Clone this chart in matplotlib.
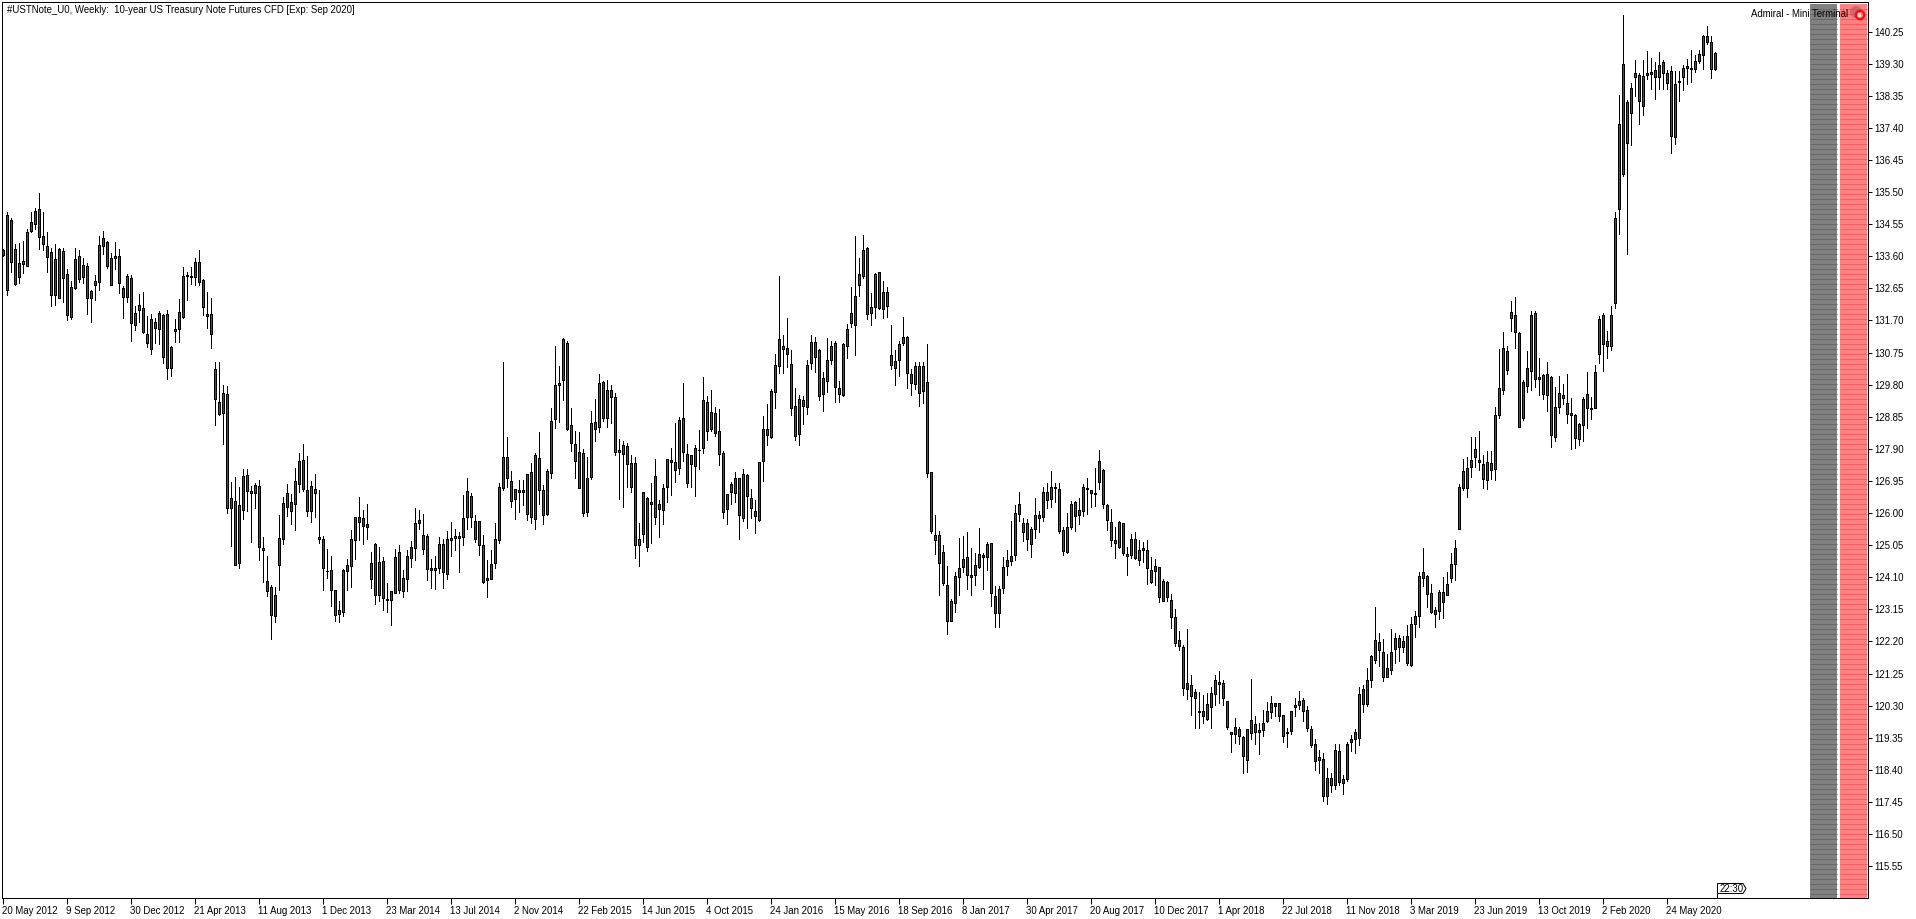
import numpy as np
import matplotlib
matplotlib.use("Agg")
import matplotlib.pyplot as plt
from matplotlib.patches import Rectangle, Polygon, Circle

title = "#USTNote_U0, Weekly:  10-year US Treasury Note Futures CFD [Exp: Sep 2020]"
date_labels = ["20 May 2012","9 Sep 2012","30 Dec 2012","21 Apr 2013","11 Aug 2013","1 Dec 2013","23 Mar 2014",
 "13 Jul 2014","2 Nov 2014","22 Feb 2015","14 Jun 2015","4 Oct 2015","24 Jan 2016","15 May 2016","18 Sep 2016",
 "8 Jan 2017","30 Apr 2017","20 Aug 2017","10 Dec 2017","1 Apr 2018","22 Jul 2018","11 Nov 2018","3 Mar 2019",
 "23 Jun 2019","13 Oct 2019","2 Feb 2020","24 May 2020"]
price_ticks = [140.25,139.30,138.35,137.40,136.45,135.50,134.55,133.60,132.65,131.70,130.75,129.80,128.85,127.90,
 126.95,126.00,125.05,124.10,123.15,122.20,121.25,120.30,119.35,118.40,117.45,116.50,115.55]

direction = ("G" "GRGRGGGGRR" "RRGGRRGGRG" "RGGGGRGGRR" "GRGGRRGRGG" "RGGGGRRGRR" "RRRRGRGRGG" "RRGRGGRGGG"
 "RRGGRRGRGR" "GRRGGGGGGR" "RGRGRGGGRG" "GGGGGRRGGR" "GGGGGGRGRR" "GGGGGRRGGG" "GRGRRGGGGG" "RRRGRGGRGR"
 "GRRGGRGRGG" "RGRRGGGRGR" "GRGGGRGRRR" "GRGRGRRRGG" "RGGGRRRRGR" "GGRRGGGRRG" "GGGGGRGGRG" "RRGGGRRGRG"
 "RRRRRRGGGG" "RGGGGGRRGG" "GGGRGRGGRG" "RGGRRGGRGG" "GRGGRRRRGR" "RGRGGRGGRG" "RRRRRGRGGR" "GGGGRRGGRR"
 "GGRGGGGRRR" "GGGGRRRRGR" "GRGRGGGGGR" "GGGRRGGGRG" "RGGGGRRGGR" "GGGGGGGGRR" "GRGGGRRRRG" "GGRGRGRGGR"
 "RGRGGRGGGR" "RGGGRRGGRG" "GGRGRGRGGG" "RGGGGRRG")

highs = [133.81,134.92,134.72,133.95,133.98,134.05,134.40,134.90,135.02,135.46,134.90,134.31,133.83,133.95,133.83,133.83,
 133.21,132.86,133.83,133.78,133.55,133.39,132.60,133.04,134.19,134.35,134.05,133.69,134.02,133.80,132.72,133.06,133.04,
 132.13,132.48,132.54,131.83,131.88,131.76,131.97,131.88,132.00,130.93,131.73,132.33,133.27,133.12,133.27,133.54,133.77,
 132.92,132.54,132.36,
 130.46,130.46,129.78,129.75,126.91,127.07,126.76,127.29,127.29,126.79,126.88,126.97,125.28,124.73,123.86,123.80,125.93,
 126.47,126.85,126.56,127.32,127.77,128.03,127.68,126.94,127.15,126.68,125.31,124.93,124.73,123.71,123.39,124.34,124.63,
 125.49,125.87,126.47,126.08,126.27,124.84,125.11,124.99,124.69,123.92,123.69,124.93,125.05,124.31,124.90,125.16,126.14,
 126.08,125.96,125.37,124.63,124.72,125.28,
 125.22,125.46,125.73,125.52,125.43,126.52,127.03,126.58,125.93,125.75,125.34,124.60,124.91,125.70,126.88,130.46,128.24,
 127.23,126.70,126.99,126.97,127.14,127.47,127.77,128.39,126.82,127.29,129.10,130.93,130.34,131.17,131.08,129.10,128.42,
 128.39,127.88,127.65,129.01,129.36,130.10,129.90,129.95,129.78,129.54,128.18,128.12,128.06,127.71,127.65,125.70,126.61,
 126.46,126.88,127.59,126.38,126.85,127.59,
 127.91,128.66,128.83,129.84,128.03,127.73,128.00,128.45,130.02,129.45,129.63,129.13,129.07,127.83,126.56,126.92,127.21,
 127.03,127.30,127.15,126.70,126.38,127.52,128.86,129.22,129.66,130.70,133.00,131.26,131.76,130.81,129.69,129.48,129.45,
 130.52,131.26,131.20,130.84,130.16,131.17,131.08,131.08,129.90,131.02,131.58,132.68,134.19,133.54,134.22,133.86,132.50,
 133.09,133.12,132.86,132.68,131.55,130.82,131.08,
 131.81,131.23,130.25,130.46,130.46,130.46,130.99,127.20,125.93,125.47,125.04,124.42,123.45,124.25,125.25,125.32,125.43,
 124.96,124.81,125.55,124.81,125.13,125.10,123.84,123.83,124.69,124.90,125.75,126.23,126.61,125.84,125.81,125.58,126.43,
 126.05,126.76,126.88,127.23,126.88,126.88,125.58,125.99,126.35,126.35,126.43,126.85,127.03,126.67,127.32,127.85,127.29,
 126.26,126.11,125.58,125.75,125.70,124.99,
 125.37,125.43,125.19,125.13,125.19,124.69,124.63,124.39,124.06,123.98,123.59,123.15,122.50,122.08,122.56,121.20,120.78,
 120.69,120.60,120.66,120.84,121.20,121.31,121.05,120.45,119.51,119.92,119.66,119.39,119.60,121.08,119.98,119.78,120.16,
 120.40,120.57,120.37,120.37,120.03,119.63,120.13,120.54,120.72,120.52,120.28,119.69,119.30,118.98,118.89,118.44,118.30,
 119.15,119.15,
 118.24,119.22,119.42,119.60,120.84,120.90,121.41,121.79,123.21,122.44,122.26,121.82,122.56,122.44,122.38,122.35,122.68,
 122.91,123.09,124.25,124.96,124.16,123.89,123.21,123.71,124.10,124.25,124.81,125.19,
 126.86,127.60,127.65,128.25,128.25,128.42,127.71,127.83,127.83,129.13,130.85,131.35,130.94,132.27,132.39,131.35,129.93,
 130.79,131.97,131.97,130.58,130.11,130.46,130.05,129.73,130.05,129.81,130.11,129.40,128.93,128.66,129.43,130.17,129.43,
 130.38,131.83,131.91,131.38,132.12,
 134.91,138.37,140.73,138.22,138.74,139.42,139.01,139.42,139.66,139.48,139.34,139.63,139.40,139.10,139.22,139.07,139.07,
 139.25,139.45,139.69,139.54,139.69,140.16,140.40,140.13,139.63]

lows = [133.61,132.45,133.14,132.75,132.82,133.11,133.32,134.33,134.41,133.82,133.77,133.13,132.14,132.16,132.35,132.23,
 131.72,131.75,132.62,132.85,132.80,131.89,131.65,132.29,132.61,133.67,133.26,132.76,133.22,132.52,131.78,132.23,131.10,
 131.43,131.66,131.34,130.90,130.72,131.02,131.01,130.45,129.98,130.04,131.07,131.07,131.76,132.30,132.78,132.75,132.75,
 131.87,131.49,130.87,
 128.59,128.91,128.05,126.01,125.01,124.47,124.36,125.81,126.07,125.15,126.16,124.62,123.97,123.53,122.26,122.76,123.71,
 125.07,125.92,125.66,125.51,126.61,126.66,125.92,125.72,125.89,125.11,123.73,124.09,123.26,122.79,122.76,122.94,123.73,
 123.82,124.65,125.20,125.07,125.24,123.79,123.32,123.41,123.14,123.08,122.70,123.63,123.62,123.51,123.68,124.41,124.62,
 125.54,124.78,124.03,123.79,123.76,124.22,
 123.79,124.06,124.74,124.92,124.24,125.06,125.54,125.60,125.15,124.77,123.94,123.50,124.04,124.38,125.10,126.69,126.78,
 126.19,125.83,126.04,126.25,125.80,125.71,125.54,126.28,125.66,125.95,127.05,128.52,128.70,129.35,128.47,127.84,127.04,
 126.73,125.92,125.92,127.02,128.14,128.41,128.73,128.55,128.67,127.73,126.40,126.19,126.76,126.63,124.68,124.44,125.15,
 124.89,125.12,125.68,125.30,125.66,126.34,
 126.52,126.93,127.14,127.55,126.78,126.78,126.49,127.31,127.79,128.17,128.44,128.29,127.43,125.84,125.66,126.28,126.32,
 125.24,125.75,125.57,125.86,125.42,125.76,126.96,128.00,128.23,129.12,130.15,130.15,130.33,128.91,128.17,128.02,128.62,
 128.94,130.27,130.18,129.33,129.03,129.59,130.42,129.30,129.30,129.45,130.60,131.51,130.69,132.43,132.95,131.75,131.57,
 131.78,132.05,131.78,131.81,130.27,129.80,130.06,
 130.98,129.71,129.50,129.68,129.18,129.26,127.08,125.42,124.80,123.56,123.86,122.43,122.79,123.08,123.56,124.25,123.76,
 123.56,123.88,124.38,123.76,124.32,123.26,122.64,122.64,123.64,124.18,124.46,124.62,125.77,125.18,124.92,124.71,125.27,
 125.44,125.75,126.14,126.19,126.34,125.42,124.77,124.83,125.54,125.48,125.66,125.90,125.98,126.19,126.20,126.70,126.16,
 125.51,125.03,124.68,124.97,124.75,124.18,
 124.68,124.63,124.47,124.55,123.91,123.94,123.88,123.37,123.41,123.40,122.60,122.07,121.95,120.62,120.50,120.03,119.65,
 119.65,119.80,119.88,119.65,120.33,120.37,120.33,119.62,118.94,119.20,119.17,118.32,118.35,119.32,119.15,118.88,119.41,
 119.82,119.94,120.00,119.85,119.23,119.08,119.45,120.00,120.21,119.85,119.56,119.08,118.40,118.32,117.49,117.40,117.75,
 117.84,117.96,
 117.67,118.08,118.97,118.91,119.12,120.12,120.30,120.86,121.55,121.48,121.04,121.14,121.25,121.55,121.63,121.89,121.51,
 121.46,122.34,122.62,123.84,123.23,123.03,122.64,122.87,122.90,123.56,123.97,124.03,
 125.52,126.67,126.46,127.08,127.35,127.26,126.73,126.70,127.02,126.99,128.80,129.51,130.10,131.39,130.87,128.54,128.74,
 129.57,129.63,129.72,129.48,129.36,129.03,127.94,128.12,128.95,129.22,128.65,127.88,127.91,128.01,128.12,128.53,128.78,
 129.10,130.43,130.20,130.60,130.82,
 132.08,134.27,135.98,133.66,136.90,138.33,137.50,137.78,138.83,138.54,138.26,138.54,138.54,138.56,136.66,136.93,138.20,
 138.51,138.71,138.75,139.04,139.31,139.13,139.87,138.88,139.10]

body_upper = [133.78,134.81,134.66,133.80,133.39,133.45,134.31,134.60,134.93,134.99,134.19,133.89,133.72,133.51,133.80,133.74,
 133.06,132.68,133.51,133.60,133.33,133.30,132.56,132.86,133.92,134.13,134.01,133.54,133.60,133.60,132.65,133.01,132.95,
 131.91,132.15,132.06,131.29,131.73,131.65,131.91,131.85,131.88,130.90,131.44,131.94,133.01,133.04,133.01,133.42,133.42,
 132.89,131.88,131.88,
 130.25,129.28,129.54,129.51,126.44,126.35,126.23,127.09,127.12,126.64,126.82,126.79,124.96,123.98,123.80,123.57,125.25,
 126.29,126.58,126.32,126.94,127.53,127.56,126.67,126.79,126.70,125.28,125.22,124.29,124.31,123.71,123.12,124.31,124.45,
 125.22,125.87,125.87,125.84,125.67,124.51,125.08,124.54,124.57,123.45,123.69,124.69,124.84,124.07,124.72,124.99,125.70,
 125.79,125.34,125.31,124.37,124.37,125.08,
 125.07,125.22,125.25,125.31,125.31,125.84,126.64,126.49,125.75,125.75,125.04,124.07,124.48,125.22,126.76,127.65,127.65,
 126.94,126.70,126.67,126.67,127.14,127.20,127.71,127.62,126.67,127.23,128.71,129.78,129.84,131.14,131.02,128.59,128.03,
 127.80,127.77,127.03,128.65,128.68,129.84,129.87,129.63,129.63,129.42,127.85,128.00,127.97,127.47,127.47,125.22,126.61,
 126.43,126.32,127.09,126.26,126.73,127.59,
 127.56,127.50,128.74,128.80,127.74,127.71,127.92,127.87,129.34,129.28,128.98,128.95,128.42,127.77,126.56,126.85,127.03,
 127.03,127.15,127.12,126.44,126.05,127.50,128.48,128.48,129.60,130.37,131.14,130.93,130.87,130.40,129.16,129.37,129.34,
 130.37,131.05,131.05,130.81,129.99,130.52,130.93,131.02,129.69,130.99,131.44,131.91,132.41,133.06,133.77,133.83,132.09,
 133.06,133.12,132.53,132.53,130.67,130.49,130.99,
 131.20,131.20,130.10,130.34,130.34,130.34,129.87,127.20,125.34,125.34,124.84,123.86,123.39,124.13,124.36,124.63,124.69,
 124.16,124.45,124.78,124.75,125.07,125.10,123.54,123.74,124.39,124.60,124.72,125.99,126.26,125.70,125.70,125.52,125.93,
 125.93,126.61,126.61,126.76,126.76,126.70,125.49,125.58,126.26,126.32,126.08,126.76,126.73,126.67,126.59,127.53,127.26,
 126.23,125.72,125.19,125.72,125.70,124.78,
 125.22,125.22,124.92,124.95,124.92,124.30,124.42,124.39,123.98,123.95,123.44,122.91,122.23,122.02,120.96,120.90,120.69,
 120.13,120.13,120.34,120.66,121.05,120.99,120.96,120.43,119.51,119.66,119.60,119.36,119.60,119.86,119.75,119.57,119.78,
 120.13,120.37,120.37,120.37,120.01,119.51,120.13,120.31,120.43,120.46,120.16,119.60,119.15,118.77,118.71,118.15,118.15,
 118.98,118.95,
 118.12,119.16,119.31,119.51,120.64,120.78,121.05,121.76,122.24,122.18,121.88,121.41,121.88,122.29,122.29,122.20,122.35,
 122.71,122.94,124.13,124.25,124.13,123.62,123.12,123.65,123.65,123.89,124.48,124.96,
 126.77,127.24,127.33,127.57,127.89,127.57,127.45,127.51,127.48,128.90,129.70,130.88,130.79,131.94,131.85,131.32,129.87,
 130.29,131.85,131.91,130.02,130.08,130.11,130.02,129.13,129.55,129.49,129.25,128.96,128.90,128.63,129.37,129.52,129.11,
 130.17,131.74,131.85,131.09,131.85,
 134.72,137.50,139.28,138.15,138.57,139.01,138.95,138.92,139.01,139.04,139.10,139.25,139.34,139.01,139.07,138.69,138.78,
 139.16,139.22,139.16,139.37,139.57,140.13,140.13,139.93,139.60]

body_lower = [133.64,132.59,133.44,132.78,132.97,133.38,133.32,134.36,134.56,134.18,133.97,133.59,132.46,132.46,132.37,132.95,
 131.87,131.81,132.66,132.92,132.97,132.37,132.37,132.76,132.83,133.89,133.31,132.76,133.56,132.80,132.38,132.40,131.61,
 131.56,132.00,131.37,131.04,130.85,131.47,131.44,130.63,130.28,130.28,131.40,131.44,131.79,133.00,132.97,132.98,132.85,
 132.09,131.82,131.29,
 129.38,128.94,128.97,126.14,126.16,124.47,124.51,126.10,126.64,126.58,126.60,124.98,124.92,123.68,122.97,122.94,124.47,
 125.24,126.17,126.07,126.26,126.87,126.72,126.07,126.07,126.60,125.24,124.36,124.27,123.71,122.97,123.02,123.08,124.27,
 124.44,125.19,125.72,125.63,125.60,124.04,123.56,123.56,123.48,123.44,123.44,123.63,123.71,123.68,124.06,124.66,124.95,
 125.70,124.93,124.34,124.30,124.31,124.37,
 124.25,124.19,125.21,125.25,125.27,125.28,125.87,125.87,125.22,125.04,123.97,124.03,124.04,124.51,125.19,126.73,127.03,
 126.35,126.41,126.63,126.61,125.96,125.87,125.81,126.67,125.95,125.96,127.18,128.77,129.80,129.95,128.50,128.06,127.53,
 126.75,125.99,126.02,127.06,128.50,128.56,128.82,128.80,129.42,127.80,127.81,127.76,127.44,126.76,125.04,125.04,125.37,
 124.99,126.28,125.87,126.11,126.08,126.76,
 127.52,127.28,127.34,127.80,126.90,127.44,127.40,127.85,127.92,128.44,128.50,128.36,127.74,126.04,126.11,126.63,126.58,
 125.93,125.85,126.50,126.16,125.90,125.78,127.53,128.30,128.26,129.57,130.34,130.84,130.72,129.10,128.27,128.35,129.16,
 129.13,130.43,130.61,129.45,129.51,129.90,130.52,129.72,129.51,129.48,130.93,131.61,131.55,132.74,133.00,131.88,131.91,
 132.09,132.08,132.03,132.12,130.37,130.28,130.52,
 131.04,130.13,129.84,129.81,129.54,129.62,127.17,125.48,125.19,124.51,123.92,122.79,122.81,123.33,124.10,124.39,124.18,
 124.12,124.18,124.41,124.71,124.69,123.63,123.03,123.03,123.77,124.42,124.57,124.77,125.96,125.43,125.22,125.07,125.52,
 125.86,125.87,126.38,126.41,126.73,125.48,124.87,124.86,125.58,125.90,125.93,126.05,126.71,126.58,126.57,126.91,126.26,
 125.78,125.19,125.10,125.00,124.81,124.72,
 124.75,124.68,124.62,124.91,124.36,123.95,124.27,123.50,123.41,123.50,122.91,122.14,122.05,120.81,120.78,120.57,120.54,
 120.11,119.98,119.91,120.25,120.63,120.95,120.52,119.68,119.45,119.45,119.39,118.80,118.68,119.48,119.51,119.53,119.57,
 119.85,120.10,120.28,119.98,119.39,119.48,119.56,120.27,120.31,120.13,119.63,119.12,118.65,118.68,117.62,117.62,117.94,
 117.94,118.03,
 118.02,118.14,119.22,119.31,119.34,120.34,120.36,121.05,121.64,121.94,121.14,121.14,121.34,121.97,122.03,122.03,121.55,
 121.50,122.73,122.94,124.07,123.59,123.06,123.02,123.09,123.36,123.56,124.09,124.48,
 125.54,126.73,126.73,127.36,127.65,127.51,127.02,126.97,127.27,127.30,128.90,129.64,130.23,131.77,131.35,128.54,128.80,
 129.75,130.20,129.96,129.98,129.52,129.49,128.31,128.25,129.13,129.40,128.93,128.90,128.22,128.19,128.60,129.10,129.09,
 129.10,130.70,131.00,130.94,130.94,
 132.21,135.01,136.04,136.94,137.83,138.89,138.18,138.06,138.97,139.00,138.89,138.89,139.01,138.74,137.15,137.12,138.76,
 138.89,139.16,139.13,139.13,139.37,139.54,139.93,139.13,139.15]

n = len(highs)
assert n == len(lows) == len(body_upper) == len(body_lower) == len(direction), (n, len(lows), len(body_upper), len(body_lower), len(direction))

W, H = 1916, 919
plt.rcParams["font.family"] = ["Liberation Sans", "DejaVu Sans"]
FS = 6.9
LW = 0.72
fig = plt.figure(figsize=(W/100, H/100), dpi=100, facecolor="white")
L, R, T, B = 2, 1868, 2, 898
ax = fig.add_axes([L/W, 1-B/H, (R-L)/W, (B-T)/H])
ax.set_xlim((L-2.5)/4, (R-2.5)/4)
ax.set_ylim(140.25-(B-31.5)/33.79, 140.25+(31.5-T)/33.79)

x = np.arange(n)
hi, lo, up, dn = map(np.array, (highs, lows, body_upper, body_lower))
cols = ["#008000" if d == "G" else "#FF0000" for d in direction]
ax.vlines(x, lo, hi, color="black", lw=LW, antialiased=False, zorder=2)
ax.bar(x, up-dn, bottom=dn, width=0.5, color=cols, edgecolor="black", linewidth=LW, antialiased=False, zorder=3)

ax.set_yticks(price_ticks)
ax.set_yticklabels([f"{p:.2f}" for p in price_ticks], fontsize=FS)
ax.yaxis.tick_right()
ax.tick_params(axis="y", length=3, width=LW, pad=1.5)
ax.set_xticks(np.arange(len(date_labels))*16)
ax.set_xticklabels(date_labels, fontsize=FS, ha="left")
ax.tick_params(axis="x", length=4, width=LW, pad=1.5)
for s in ax.spines.values():
    s.set_linewidth(LW)

ov = fig.add_axes([0, 0, 1, 1], zorder=5)
ov.set_xlim(0, W); ov.set_ylim(H, 0); ov.axis("off"); ov.patch.set_alpha(0)
stripe_rows = np.arange(8, 898, 5) + 0.5
for left, right, fill, line in [(1810, 1837, "#808080", "#686868"), (1840, 1867, "#FF8080", "#F46060")]:
    ov.add_patch(Rectangle((left, 4), right-left, 894, fc=fill, ec="none", zorder=1))
    ov.hlines(stripe_rows, left, right, color=line, lw=LW, zorder=2)
ov.text(7, 10, title, fontsize=FS, va="center", ha="left", color="black", zorder=4)
ov.text(1751, 14, "Admiral - Mini Terminal", fontsize=FS, va="center", ha="left", color="black", zorder=4)
ov.add_patch(Circle((1856, 12), 6, fc="#B05060", ec="none", alpha=0.55, zorder=3))
ov.add_patch(Circle((1860, 15), 4.2, fc="#FF8080", ec="#EE1111", lw=1.6, zorder=3))
ov.add_patch(Rectangle((1858, 13), 3.5, 3.5, fc="#FFD0D0", ec="none", zorder=3))
ov.add_patch(Polygon([(1717.5, 883.5), (1743, 883.5), (1746, 888.5), (1743, 893.5), (1717.5, 893.5)],
                     closed=True, fc="white", ec="black", lw=LW, zorder=3))
ov.plot([1717.5, 1717.5], [893.5, 898], color="black", lw=LW, zorder=3)
ov.text(1719.5, 888.7, "22:30", fontsize=FS, va="center", ha="left", color="black", zorder=4)

fig.savefig("out.png", dpi=100, facecolor="white")
